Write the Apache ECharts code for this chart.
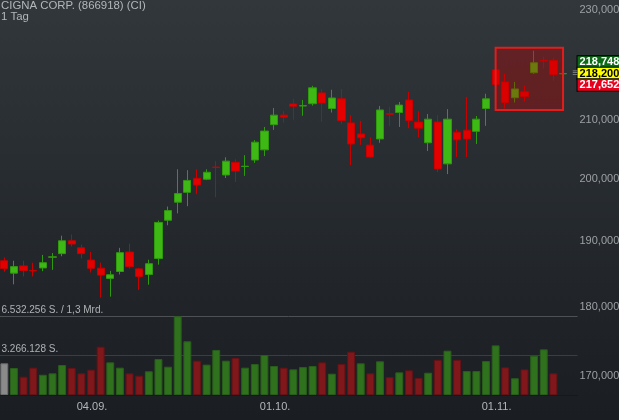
<!DOCTYPE html>
<html><head><meta charset="utf-8">
<script src="https://cdn.jsdelivr.net/npm/echarts@6/dist/echarts.min.js"></script>
<style>html,body{margin:0;padding:0;background:#262b2f}#c{width:619px;height:420px}</style>
</head><body><div id="c"></div>
<script>
const titleText = 'CIGNA CORP. (866918) (CI)';
const periodText = '1 Tag';
const dates = ['22.08.','23.08.','24.08.','27.08.','28.08.','29.08.','30.08.','31.08.','03.09.','04.09.',
  '05.09.','06.09.','07.09.','10.09.','11.09.','12.09.','13.09.','14.09.','17.09.','18.09.',
  '19.09.','20.09.','21.09.','24.09.','25.09.','26.09.','27.09.','28.09.','01.10.','02.10.',
  '03.10.','04.10.','05.10.','08.10.','09.10.','10.10.','11.10.','12.10.','15.10.','16.10.',
  '17.10.','18.10.','19.10.','22.10.','23.10.','24.10.','25.10.','26.10.','29.10.','30.10.',
  '31.10.','01.11.','02.11.','05.11.','06.11.','07.11.','08.11.','09.11.','12.11.',''];
const xLabels = ['04.09.','01.10.','01.11.'];
const open  = [187.0,185.1,186.2,185.5,185.9,187.55,188.1,190.1,189.0,187.1,
  185.85,184.3,185.35,188.35,185.75,184.9,187.35,193.35,196.25,197.85,
  200.15,200.0,202.0,200.7,202.8,202.1,203.2,204.9,209.2,210.85,
  212.8,212.45,212.85,214.75,212.0,213.7,209.5,207.6,205.7,206.75,
  211.1,211.3,213.5,209.65,206.1,209.65,202.55,207.9,208.25,208.05,
  212.0,218.9,216.7,213.9,214.95,218.35,220.55,220.55,218.15];
const high  = [187.5,187.0,187.0,186.7,187.9,188.2,190.9,191.1,189.5,188.35,
  186.7,185.45,189.0,189.65,185.9,187.15,193.3,195.55,201.65,201.5,
  201.65,201.65,203.0,203.65,203.3,204.0,206.55,208.8,212.1,211.55,
  213.7,213.5,216.0,215.45,215.3,215.45,210.85,209.85,207.05,212.45,
  212.3,213.15,214.95,211.55,211.05,210.85,211.9,208.45,214.05,210.7,
  214.6,219.2,218.15,216.7,216.0,222.35,221.25,221.05,219.05];
const low   = [185.3,183.4,184.6,184.6,185.4,185.6,187.7,189.2,187.35,185.2,
  181.4,181.55,184.9,185.8,182.55,183.35,186.4,192.55,194.45,195.6,
  197.55,199.85,197.05,200.2,199.55,200.55,202.7,203.85,208.3,209.55,
  210.05,210.75,212.5,209.7,211.3,209.35,202.35,205.75,203.55,206.1,
  208.95,208.8,208.6,207.05,204.7,201.2,200.85,203.7,203.7,205.9,
  209.0,216.0,212.0,213.05,213.2,218.15,219.1,216.9,216.25];
const close = [185.8,186.1,185.5,185.45,186.7,187.6,190.1,189.6,188.1,185.85,
  184.8,184.85,188.25,186.1,184.6,186.55,193.0,194.9,197.65,199.8,
  199.05,201.15,201.95,203.0,201.35,202.15,206.2,208.1,210.85,210.5,
  212.4,212.5,215.65,212.95,213.85,209.9,205.9,206.95,203.7,211.75,
  211.0,212.6,209.9,208.6,210.15,201.7,210.15,206.6,206.75,210.15,
  213.7,216.25,213.05,215.45,214.1,220.15,220.5,218.0,218.2];
const volume = [2630000,2240000,1520000,2270000,1680000,1800000,2490000,2240000,1800000,2100000,
  4010000,2710000,2270000,1800000,1600000,1970000,2990000,2350000,6532256,4460000,
  2850000,2520000,3740000,2850000,3070000,2270000,2570000,3320000,2410000,2270000,
  2130000,2320000,2410000,2710000,1770000,2570000,3590000,2630000,1800000,2800000,
  1490000,1880000,2050000,1410000,1850000,2910000,3680000,2910000,1990000,1990000,
  2820000,4120000,2300000,1390000,2130000,3260000,3790000,1800000,null];
const priceTicks = [170,180,190,200,210,220,230];
const volumeMax = 6532256;
const turnoverText = '1,3 Mrd.';
const quoteHigh = 218.748, quoteLast = 218.200, quoteLow = 217.652;
const boxFrom = '01.11.', boxTo = '12.11.', boxTop = 222.9, boxBottom = 211.75;

const FONT = "'Liberation Sans', Arial, sans-serif";
const fmtPrice = v => Number(v).toFixed(3).replace('.', ',');
const fmtInt = n => String(Math.round(n)).replace(/\B(?=(\d{3})+(?!\d))/g, '.');
const GREEN = '#3eb814', GREEN_B = '#2f9a0c', RED = '#e50000', RED_B = '#c80000';

const candleData = open.map((o, i) => [o, close[i], low[i], high[i]]);
const volData = volume.map((v, i) => {
  if (v == null) return '-';
  let c, b;
  if (i === 0) { c = '#8a8a8a'; b = '#6e6e6e'; }
  else if (close[i] >= close[i - 1]) { c = '#2f711d'; b = '#285e1a'; }
  else { c = '#7f171b'; b = '#651316'; }
  return { value: v, itemStyle: { color: c, borderColor: b, borderWidth: 1 } };
});
const lastDate = dates[close.length - 1];

const chart = echarts.init(document.getElementById('c'), null, { renderer: 'canvas' });
chart.setOption({
  animation: false,
  backgroundColor: { type: 'linear', x: 0, y: 0, x2: 0, y2: 1,
    colorStops: [{ offset: 0, color: '#31373b' }, { offset: 1, color: '#1a1d21' }] },
  title: {
    text: titleText + '\n' + periodText, left: 1, top: 1, padding: 0,
    textStyle: { color: '#b3b7ba', fontSize: 11.4, fontWeight: 'normal', lineHeight: 10.5, fontFamily: FONT }
  },
  grid: [
    { left: -0.5, width: 578, top: 0, height: 395, outerBoundsMode: 'none', containLabel: false },
    { left: -0.5, width: 578, top: 316.3, height: 78.7, outerBoundsMode: 'none', containLabel: false }
  ],
  xAxis: [
    { type: 'category', gridIndex: 0, data: dates, boundaryGap: true,
      axisLine: { show: false }, axisTick: { show: false }, axisLabel: { show: false }, splitLine: { show: false } },
    { type: 'category', gridIndex: 1, data: dates, boundaryGap: true,
      axisLine: { show: true, lineStyle: { color: '#16191c' } }, axisTick: { show: false },
      axisLabel: { interval: (idx, val) => xLabels.includes(val), color: '#b4b7ba', fontSize: 11, margin: 6, fontFamily: FONT,
        padding: [0, 0, 0, 2] },
      splitLine: { show: false } }
  ],
  yAxis: [
    { type: 'log', gridIndex: 0, position: 'right', min: 167.41, max: 231.84,
      axisLine: { show: false }, axisTick: { show: false, customValues: priceTicks }, splitLine: { show: false },
      axisLabel: { customValues: priceTicks, formatter: v => fmtPrice(v), color: '#9da1a4', fontSize: 11, margin: 2, fontFamily: FONT } },
    { type: 'value', gridIndex: 1, position: 'left', min: 0, max: volumeMax, interval: volumeMax / 2,
      axisLine: { show: false }, axisTick: { show: false },
      splitLine: { show: true, lineStyle: { color: ['#1c1f22', '#3b3e41', '#4e5154'], width: 1 } },
      axisLabel: { inside: true, margin: 2, color: '#b0b3b6', fontSize: 10, fontFamily: FONT, verticalAlign: 'bottom', lineHeight: 13,
        formatter: v => v === volumeMax ? fmtInt(v) + ' S. / ' + turnoverText : (v === volumeMax / 2 ? fmtInt(v) + ' S.' : '') } }
  ],
  series: [
    { type: 'candlestick', xAxisIndex: 0, yAxisIndex: 0, data: candleData, barWidth: '80%',
      itemStyle: { color: GREEN, color0: RED, borderColor: GREEN_B, borderColor0: RED_B, borderWidth: 1 },
      markArea: { z: 10, silent: true,
        itemStyle: { color: 'rgba(200,0,0,0.34)', borderColor: '#e41c1c', borderWidth: 2 },
        data: [[{ xAxis: boxFrom, yAxis: boxTop }, { xAxis: boxTo, yAxis: boxBottom }]] },
      markPoint: { z: 20, silent: true, symbol: 'rect', symbolSize: 1, itemStyle: { color: 'rgba(0,0,0,0)' },
        label: { show: true, position: 'right', distance: 14, fontSize: 11, fontWeight: 'bold', fontFamily: FONT,
          padding: [1, 3, 0, 2], lineHeight: 10.5, width: 40, borderColor: '#000', borderWidth: 1 },
        data: [
          { coord: [lastDate, quoteLast], label: { formatter: fmtPrice(quoteHigh), backgroundColor: '#0b6a15', color: '#ffffff', offset: [0, -11.5] } },
          { coord: [lastDate, quoteLast], label: { formatter: fmtPrice(quoteLast), backgroundColor: '#ffff00', color: '#000000' } },
          { coord: [lastDate, quoteLast], label: { formatter: fmtPrice(quoteLow), backgroundColor: '#e8001c', color: '#ffffff', offset: [0, 11.5] } },
          { coord: [lastDate, quoteLast], label: { formatter: '≡', distance: 9, fontSize: 10, fontWeight: 'normal', color: '#8a8e91', backgroundColor: 'transparent', borderWidth: 0, width: null, padding: 0 } }
        ] } },
    { type: 'bar', xAxisIndex: 1, yAxisIndex: 1, data: volData, barWidth: '82%', z: 1 }
  ]
});
</script></body></html>
